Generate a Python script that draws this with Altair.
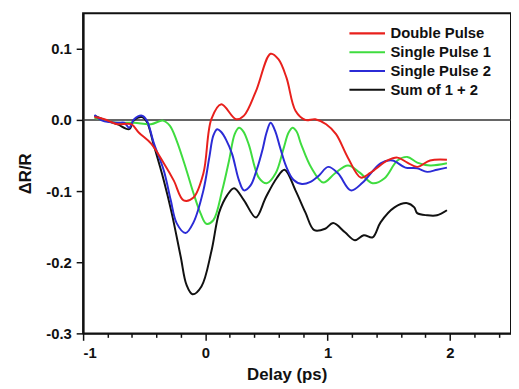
import altair as alt
import pandas as pd

# ---- data ----
series_names = ["Double Pulse", "Single Pulse 1", "Single Pulse 2", "Sum of 1 + 2"]
series_colors = ["#e8201c", "#3fdc3f", "#2b2bd6", "#111111"]

t_double = [-0.907, -0.826, -0.721, -0.607, -0.543, -0.445, -0.340, -0.259, -0.178, -0.097,
            -0.016, 0.049, 0.130, 0.251, 0.316, 0.413, 0.534, 0.599, 0.664, 0.737,
            0.818, 0.899, 0.988, 1.069, 1.166, 1.271, 1.352, 1.490, 1.571, 1.652,
            1.733, 1.838, 1.976]
v_double = [0.004, 0.001, -0.006, -0.006, -0.018, -0.033, -0.061, -0.085, -0.113, -0.109,
            -0.075, 0.001, 0.022, 0.001, 0.006, 0.040, 0.093, 0.085, 0.059, 0.013,
            0.000, 0.001, -0.006, -0.020, -0.053, -0.081, -0.074, -0.057, -0.053, -0.060,
            -0.066, -0.057, -0.056]

t_single1 = [-0.907, -0.818, -0.721, -0.583, -0.445, -0.348, -0.291, -0.235, -0.154, -0.097,
             -0.040, 0.008, 0.065, 0.138, 0.194, 0.240, 0.275, 0.310, 0.356, 0.437, 0.502, 0.575,
             0.640, 0.680, 0.713, 0.745, 0.785, 0.866, 0.964, 1.061, 1.166, 1.263, 1.368, 1.466,
             1.571, 1.652, 1.733, 1.838, 1.976]
v_single1 = [0.003, -0.001, -0.004, -0.004, -0.006, -0.001, -0.008, -0.029, -0.071, -0.103,
             -0.131, -0.146, -0.141, -0.099, -0.057, -0.020, -0.011, -0.016, -0.035, -0.081, -0.089, -0.075,
             -0.040, -0.018, -0.011, -0.016, -0.035, -0.067, -0.088, -0.075, -0.064, -0.074, -0.089, -0.082,
             -0.057, -0.052, -0.060, -0.064, -0.061]

t_single2 = [-0.907, -0.842, -0.721, -0.664, -0.623, -0.583, -0.518, -0.478, -0.421, -0.340,
             -0.283, -0.235, -0.162, -0.097, -0.016, 0.032, 0.065, 0.097, 0.130, 0.170, 0.219, 0.275,
             0.316, 0.370, 0.420, 0.470, 0.500, 0.534, 0.570, 0.610, 0.660, 0.720, 0.790, 0.860, 0.930,
             1.004, 1.085, 1.190, 1.287, 1.433, 1.530, 1.636, 1.733, 1.814, 1.895, 1.976]
v_single2 = [0.007, -0.001, -0.004, -0.004, -0.011, 0.001, 0.006, -0.001, -0.033, -0.071,
             -0.113, -0.145, -0.159, -0.144, -0.099, -0.053, -0.022, -0.013, -0.017, -0.028, -0.048, -0.085,
             -0.099, -0.092, -0.070, -0.040, -0.018, -0.004, -0.015, -0.038, -0.065, -0.084, -0.090, -0.087, -0.078,
             -0.066, -0.075, -0.099, -0.088, -0.061, -0.057, -0.067, -0.068, -0.073, -0.070, -0.067]

t_sum = [-0.907, -0.826, -0.721, -0.623, -0.583, -0.518, -0.478, -0.421, -0.340, -0.275,
         -0.202, -0.154, -0.105, -0.032, 0.049, 0.113, 0.178, 0.235, 0.316, 0.413,
         0.494, 0.583, 0.648, 0.737, 0.818, 0.891, 0.980, 1.045, 1.142, 1.223,
         1.296, 1.368, 1.433, 1.547, 1.652, 1.709, 1.733, 1.814, 1.895, 1.976]
v_sum = [0.006, 0.000, -0.006, -0.013, 0.000, 0.004, -0.003, -0.036, -0.085, -0.131,
         -0.192, -0.232, -0.245, -0.234, -0.185, -0.130, -0.106, -0.096, -0.113, -0.137,
         -0.109, -0.082, -0.070, -0.099, -0.130, -0.155, -0.153, -0.145, -0.158, -0.169,
         -0.162, -0.165, -0.144, -0.123, -0.117, -0.123, -0.131, -0.134, -0.134, -0.127]

x_ticks = [-1.0, -0.8, -0.6, -0.4, -0.2, 0.0, 0.2, 0.4, 0.6, 0.8, 1.0, 1.2, 1.4, 1.6,
           1.8, 2.0, 2.2, 2.4]
y_ticks = [-0.3, -0.25, -0.2, -0.15, -0.1, -0.05, 0.0, 0.05, 0.1, 0.15]

# ---- table ----
frames = []
for name, ts, vs in [("Sum of 1 + 2", t_sum, v_sum),
                     ("Single Pulse 1", t_single1, v_single1),
                     ("Single Pulse 2", t_single2, v_single2),
                     ("Double Pulse", t_double, v_double)]:
    frames.append(pd.DataFrame({"delay": ts, "dr": vs, "series": name}))
df = pd.concat(frames, ignore_index=True)
df["order"] = range(len(df))

FONT = "Liberation Sans"

x_axis = alt.Axis(
    values=x_ticks,
    labelExpr="abs(datum.value - round(datum.value)) < 1e-6 ? toString(round(datum.value)) : ''",
    tickSize={"condition": {"test": "abs(datum.value - round(datum.value)) < 1e-6", "value": 7}, "value": 4},
    title="Delay (ps)", titleX=206, titleY=42, titleBaseline="middle",
    labelPadding=5, grid=False,
)
y_axis = alt.Axis(
    values=y_ticks,
    labelExpr="abs(datum.value*10 - round(datum.value*10)) < 1e-6 ? ((datum.value < -1e-9 ? '-' : '') + format(abs(datum.value), '.1f')) : ''",
    tickSize={"condition": {"test": "abs(datum.value*10 - round(datum.value*10)) < 1e-6", "value": 7}, "value": 4},
    title="ΔR/R", titleX=-58, titleBaseline="middle",
    labelPadding=5, grid=False,
)

x_enc = alt.X("delay:Q", scale=alt.Scale(domain=[-1, 2.5], nice=False, zero=False), axis=x_axis)
y_enc = alt.Y("dr:Q", scale=alt.Scale(domain=[-0.3, 0.15], nice=False, zero=False), axis=y_axis)

lines = alt.Chart(df).mark_line(strokeWidth=2, interpolate="catmull-rom").encode(
    x=x_enc,
    y=y_enc,
    color=alt.Color(
        "series:N",
        scale=alt.Scale(domain=series_names, range=series_colors),
        legend=alt.Legend(
            title=None, orient="none", legendX=268, legendY=11,
            symbolType="stroke", symbolSize=1296, symbolStrokeWidth=2.2,
            clipHeight=19, rowPadding=0, labelOffset=4, padding=0,
            labelFont=FONT, labelFontSize=15, labelFontWeight="bold",
            labelColor="#111", labelLimit=300,
        ),
    ),
    detail="series:N",
    order="order:Q",
)

zero = alt.Chart(pd.DataFrame({"z": [0.0]})).mark_rule(color="#333333", strokeWidth=1.6).encode(
    y=alt.Y("z:Q")
)

chart = alt.layer(zero, lines).properties(
    width=433, height=324,
    padding={"left": 76, "top": 3, "right": 0, "bottom": 52},
    autosize=alt.AutoSizeParams(type="none"),
    background="white",
).configure_view(
    stroke="#111", strokeWidth=2
).configure_axis(
    labelFont=FONT, labelFontSize=15, labelFontWeight="bold", labelColor="#111",
    titleFont=FONT, titleFontSize=17, titleFontWeight="bold", titleColor="#111",
    domainColor="#111", domainWidth=2, tickColor="#111", tickWidth=1.5,
)

chart.save("out.html", embed_options={"renderer": "svg", "actions": False})
